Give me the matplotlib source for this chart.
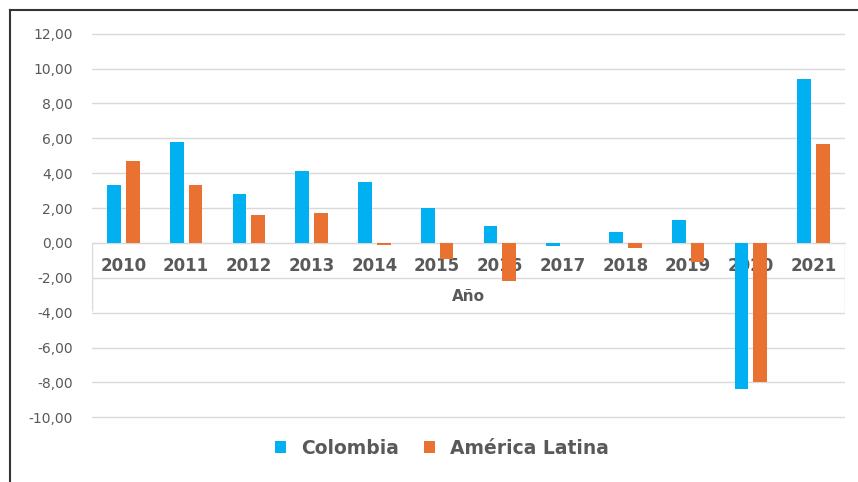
import numpy as np
import matplotlib.pyplot as plt
from matplotlib.lines import Line2D

# DATOS
anios = ['2010', '2011', '2012', '2013', '2014', '2015',
         '2016', '2017', '2018', '2019', '2020', '2021']
colombia = [3.3, 5.8, 2.8, 4.1, 3.5, 2.0, 1.0, -0.2, 0.6, 1.3, -8.4, 9.4]
america_latina = [4.7, 3.3, 1.6, 1.7, -0.1, -0.9, -2.2, 0.0, -0.3, -1.1, -8.0, 5.7]
yticks = np.arange(-10, 13, 2)

azul = '#00B0F0'
naranja = '#E97132'
gris = '#595959'
linea = '#D9D9D9'

fig = plt.figure(figsize=(8.58, 4.82), dpi=100)
# margen de 0.1 unidades (~1.7 px) para que no se recorten las lineas extremas
ax = fig.add_axes([92/858, 1-419/482, (845-92)/858, (419-32)/482])

x = np.arange(len(anios))
ancho = 0.22
sep = 0.08
ax.bar(x - (ancho+sep)/2, colombia, ancho, color=azul, label='Colombia', zorder=3)
ax.bar(x + (ancho+sep)/2, america_latina, ancho, color=naranja,
       label='América Latina', zorder=3)

ax.set_xlim(-0.5, len(anios)-0.5)
ax.set_ylim(-10.1, 12.1)
ax.set_yticks(yticks)
ax.set_yticklabels([('%.2f' % v).replace('.', ',') for v in yticks])
ax.tick_params(axis='y', length=0, pad=14, labelsize=10, labelcolor=gris)
ax.grid(axis='y', color=linea, lw=1)
ax.set_axisbelow(True)
for s in ['top', 'right', 'left']:
    ax.spines[s].set_visible(False)

# eje de categorias en cero
ax.spines['bottom'].set_position(('data', 0))
ax.spines['bottom'].set_color(linea)
ax.set_xticks(x)
ax.set_xticklabels(anios, fontsize=12, fontweight='bold', color=gris)
ax.tick_params(axis='x', length=0, pad=10)
ax.vlines([-0.5, len(anios)-0.5], -3.9, 0, color=linea, lw=1, zorder=1)
ax.text(0.5*(len(anios)-1), -3.1, 'Año', ha='center', va='center',
        fontsize=11, fontweight='bold', color=gris)

leg = fig.legend(loc='center', bbox_to_anchor=(442/858, 1-448/482), ncol=2,
                 frameon=False, handlelength=0.6, handleheight=0.6,
                 handletextpad=0.8, columnspacing=1.3,
                 prop={'size': 13.5, 'weight': 'bold'})
for t in leg.get_texts():
    t.set_color(gris)

# marco
fig.add_artist(Line2D([10/858, 10/858], [0, 1-10/482], color='#333333', lw=1.5))
fig.add_artist(Line2D([10/858, 1], [1-10/482, 1-10/482], color='#333333', lw=1.5))

fig.savefig('out.png', dpi=100)
